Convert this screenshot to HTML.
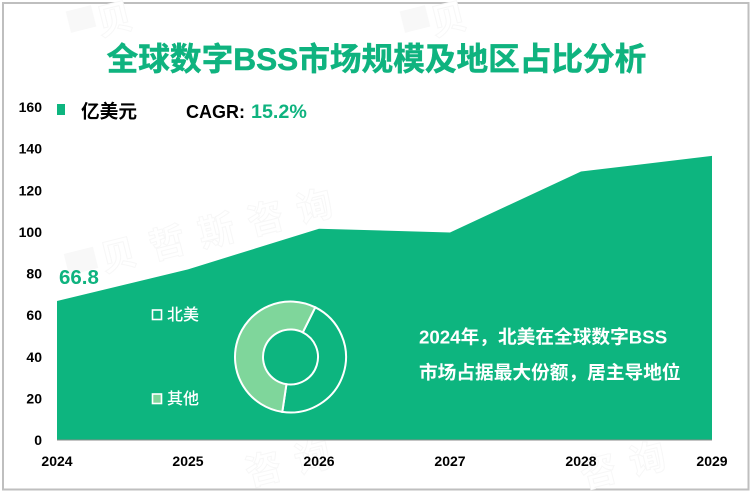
<!DOCTYPE html>
<html lang="zh">
<head>
<meta charset="utf-8">
<title>全球数字BSS市场规模及地区占比分析</title>
<style>
html,body{margin:0;padding:0;background:#fff;}
body{width:751px;height:492px;overflow:hidden;}
svg{display:block;}
text{font-family:"Liberation Sans","Noto Sans CJK SC",sans-serif;}
</style>
</head>
<body>
<svg id="chart" xmlns="http://www.w3.org/2000/svg" width="751" height="492" viewBox="0 0 751 492">
  <rect x="3" y="3" width="745.5" height="486.5" fill="#fff" stroke="#bfbfbf" stroke-width="2"></rect>
  <g id="watermarks" font-size="36" fill="#fff" stroke="#f7f7f7" stroke-width="1" font-weight="700">
    <rect x="68" y="8" width="26" height="22" fill="#f8f8f8" stroke="none" transform="rotate(-14 81 19)"></rect>
    <rect x="402" y="8" width="26" height="22" fill="#f8f8f8" stroke="none" transform="rotate(-14 415 19)"></rect>
    <rect x="66" y="250" width="30" height="22" fill="#f8f8f8" stroke="none" transform="rotate(-14 81 261)"></rect>
    <text transform="translate(100,36) rotate(-14)">贝</text>
    <text transform="translate(434,36) rotate(-14)">贝</text>
    <text transform="translate(104,272) rotate(-14)" letter-spacing="14.5">贝哲斯咨询</text>
    <text transform="translate(249,486) rotate(-14)" letter-spacing="14.5">咨询</text>
    <text transform="translate(584,488) rotate(-14)" letter-spacing="14.5">咨询</text>
  </g>
  <text x="376.5" y="70" text-anchor="middle" font-size="31.65" font-weight="700" fill="#0fb37f" stroke="#0fb37f" stroke-width="0.5">全球数字BSS市场规模及地区占比分析</text>
  <g id="y-axis"></g>
  <g id="x-axis"></g>
  <path id="area" fill="#0db57f"></path>
  <line id="baseline" stroke="#8a8a8a" stroke-width="1"></line>
  <rect x="57" y="104" width="8" height="11" fill="#0db57f"></rect>
  <text x="81" y="118" font-size="18.7" font-weight="700" fill="#000">亿美元</text>
  <text x="186" y="118" font-size="18" font-weight="700" fill="#000">CAGR:</text>
  <text x="251" y="118" font-size="19.7" font-weight="700" fill="#0fb37f">15.2%</text>
  <text id="first-value" x="59" y="284" font-size="20.5" font-weight="700" fill="#0fb37f"></text>
  <g id="donut"></g>
  <rect x="152.5" y="310" width="9" height="9.5" fill="#0db57f" stroke="#fff" stroke-width="1.6"></rect>
  <text x="167" y="320" font-size="16" font-weight="500" fill="#fff">北美</text>
  <rect x="152.5" y="394" width="9" height="9.5" fill="#7fd69b" stroke="#fff" stroke-width="1.6"></rect>
  <text x="167" y="404" font-size="16" font-weight="500" fill="#fff">其他</text>
  <text x="419" y="343.5" font-size="18.7" font-weight="700" fill="#fff">2024年，北美在全球数字BSS</text>
  <text x="419" y="379" font-size="18.7" font-weight="700" fill="#fff">市场占据最大份额，居主导地位</text>
</svg>
<script>
const years = ['2024', '2025', '2026', '2027', '2028', '2029'];
const marketSize = [66.8, 82, 101.5, 99.7, 129, 136.5];
const yTicks = [0, 20, 40, 60, 80, 100, 120, 140, 160];
const regionNames = ['北美', '其他'];
const regionShares = [45, 55];

const NS = 'http://www.w3.org/2000/svg';
const plotLeft = 57, plotRight = 712, plotBottom = 440, plotTop = 107;
const xScale = i => plotLeft + (plotRight - plotLeft) * i / (years.length - 1);
const yScale = v => plotBottom - (plotBottom - plotTop) * v / 160;

const yAxis = document.getElementById('y-axis');
yTicks.forEach(t => {
  const el = document.createElementNS(NS, 'text');
  
  
  el.setAttribute('x', 42);
  el.setAttribute('y', yScale(t) + 5);
  el.setAttribute('text-anchor', 'end');
  el.setAttribute('font-size', '14');
  el.setAttribute('font-weight', '700');
  el.setAttribute('fill', '#000');
  el.textContent = t;
  yAxis.appendChild(el);
});

const xAxis = document.getElementById('x-axis');
years.forEach((y, i) => {
  const el = document.createElementNS(NS, 'text');
  
  
  el.setAttribute('x', xScale(i));
  el.setAttribute('y', 466);
  el.setAttribute('text-anchor', 'middle');
  el.setAttribute('font-size', '14');
  el.setAttribute('font-weight', '700');
  el.setAttribute('fill', '#000');
  el.textContent = y;
  xAxis.appendChild(el);
});

const pts = marketSize.map((v, i) => xScale(i) + ',' + yScale(v));
document.getElementById('area').setAttribute('d',
  'M' + plotLeft + ',' + plotBottom + ' L' + pts.join(' L') + ' L' + plotRight + ',' + plotBottom + ' Z');

const base = document.getElementById('baseline');
base.setAttribute('x1', plotLeft);
base.setAttribute('x2', plotRight);
base.setAttribute('y1', plotBottom);
base.setAttribute('y2', plotBottom);

document.getElementById('first-value').textContent = marketSize[0];

const donut = document.getElementById('donut');
const cx = 290.5, cy = 357, rOuter = 55.5, rInner = 27.5, startDeg = 26.5;
const colors = ['#0db57f', '#7fd69b'];
const polar = (r, deg) => {
  const a = deg * Math.PI / 180;
  return [cx + r * Math.sin(a), cy - r * Math.cos(a)];
};
const total = regionShares.reduce((a, b) => a + b, 0);
let angle = startDeg;
regionShares.forEach((share, i) => {
  const sweep = share / total * 360;
  const end = angle + sweep;
  const large = sweep > 180 ? 1 : 0;
  const p1 = polar(rOuter, angle), p2 = polar(rOuter, end);
  const p3 = polar(rInner, end), p4 = polar(rInner, angle);
  const el = document.createElementNS(NS, 'path');
  
  
  el.setAttribute('d', 'M' + p1 + ' A' + rOuter + ',' + rOuter + ' 0 ' + large + ' 1 ' + p2 +
    ' L' + p3 + ' A' + rInner + ',' + rInner + ' 0 ' + large + ' 0 ' + p4 + ' Z');
  el.setAttribute('fill', colors[i]);
  el.setAttribute('stroke', '#fff');
  el.setAttribute('stroke-width', '2');
  const title = document.createElementNS(NS, 'title');
  title.textContent = regionNames[i];
  el.appendChild(title);
  donut.appendChild(el);
  angle = end;
});
</script>
</body>
</html>
